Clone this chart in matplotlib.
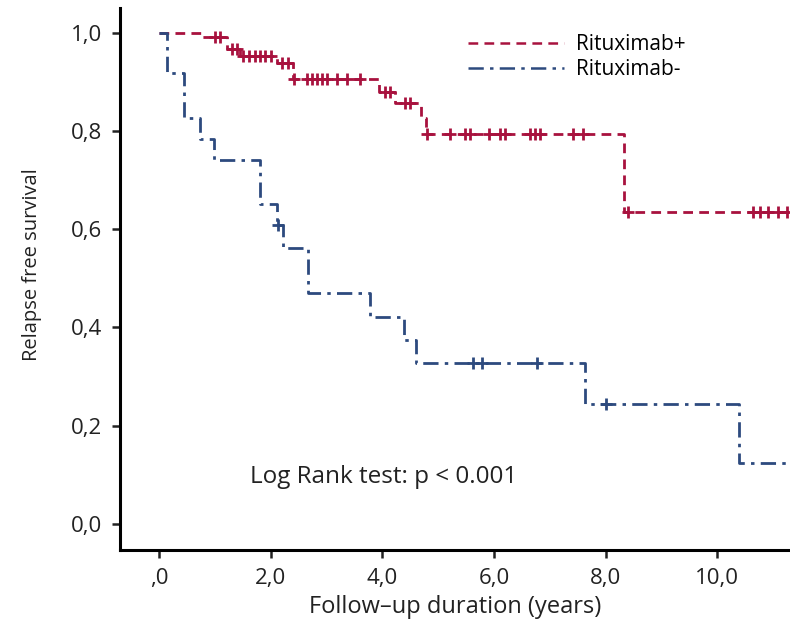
import matplotlib
matplotlib.use("Agg")
import matplotlib.pyplot as plt
import numpy as np

plt.rcParams['lines.scale_dashes'] = False
plt.rcParams['font.family'] = ['Open Sans', 'DejaVu Sans']

# Rituximab+ : event times and survival after each event
pos_times = [0.0, 0.77, 1.22, 1.45, 2.11, 2.40, 3.94, 4.23, 4.70, 4.78, 8.32]
pos_surv = [1.0, 0.990, 0.967, 0.953, 0.939, 0.906, 0.880, 0.857, 0.826, 0.794, 0.635]
pos_cens = [1.00, 1.10, 1.31, 1.40, 1.51, 1.61, 1.72, 1.81, 1.90, 2.01, 2.20, 2.31,
            2.42, 2.65, 2.74, 2.83, 2.92, 3.00, 3.19, 3.37, 3.60, 4.05, 4.14, 4.41, 4.50,
            4.80, 5.21, 5.48, 5.57, 5.90, 6.11, 6.20, 6.65, 6.74, 6.83, 7.42, 7.60,
            8.39, 10.63, 10.77, 10.91, 11.08, 11.25]

# Rituximab- : event times and survival after each event
neg_times = [0.0, 0.14, 0.45, 0.73, 0.99, 1.81, 2.11, 2.22, 2.67, 3.78, 4.39, 4.61, 7.62, 10.38]
neg_surv = [1.0, 0.918, 0.827, 0.784, 0.741, 0.652, 0.609, 0.562, 0.470, 0.422, 0.375, 0.328, 0.244, 0.124]
neg_cens = [2.13, 5.63, 5.79, 6.76, 8.01]

x_end = 11.6
red = '#a8123e'
blue = '#2d4a7e'
txt = '#222222'

fig = plt.figure(figsize=(7.9, 6.24), dpi=100)
ax = fig.add_axes([120 / 790, 74 / 624, 1 - 120 / 790, 542 / 624])


def draw_curve(times, surv, cens, color, dashes, label):
    t = np.array(times + [x_end])
    s = np.array(surv + [surv[-1]])
    ax.step(t, s, where='post', color=color, lw=2.0, dashes=dashes, label=label)
    idx = np.searchsorted(np.array(times), np.array(cens), side='right') - 1
    ax.plot(cens, np.array(surv)[idx], linestyle='none', marker='+', ms=9, mew=2.0, color=color)


draw_curve(pos_times, pos_surv, pos_cens, red, (7, 4.5), 'Rituximab+')
draw_curve(neg_times, neg_surv, neg_cens, blue, (11, 4.5, 2.5, 4.5), 'Rituximab-')

ax.set_xlim(-0.7, 11.3)
ax.set_ylim(-0.053, 1.05)
ax.set_xticks([0, 2, 4, 6, 8, 10])
ax.set_xticklabels([',0', '2,0', '4,0', '6,0', '8,0', '10,0'], fontsize=16)
ax.set_yticks([0, 0.2, 0.4, 0.6, 0.8, 1.0])
ax.set_yticklabels(['0,0', '0,2', '0,4', '0,6', '0,8', '1,0'], fontsize=16)
for sp in ['top', 'right']:
    ax.spines[sp].set_visible(False)
for sp in ['left', 'bottom']:
    ax.spines[sp].set_linewidth(2.2)
ax.tick_params(width=1.8, length=6, pad=7, colors=txt, labelcolor=txt)

ax.set_xlabel('Follow–up duration (years)', fontsize=17, labelpad=4, color=txt)
ax.set_ylabel('Relapse free survival', fontsize=14.5, color=txt)
ax.yaxis.set_label_coords(-0.117, 0.526)

ax.text(1.63, 0.096, 'Log Rank test: p < 0.001', fontsize=17.5, va='center', ha='left',
        color=txt)

leg = ax.legend(loc='upper left', bbox_to_anchor=(468 / 790, 1 - 34 / 624),
                bbox_transform=fig.transFigure, frameon=False, fontsize=15,
                borderpad=0, borderaxespad=0, handlelength=4.6, handletextpad=0.6,
                labelspacing=0.2)
for h in leg.legend_handles:
    h.set_linewidth(1.8)

fig.savefig('out.png', dpi=100)
